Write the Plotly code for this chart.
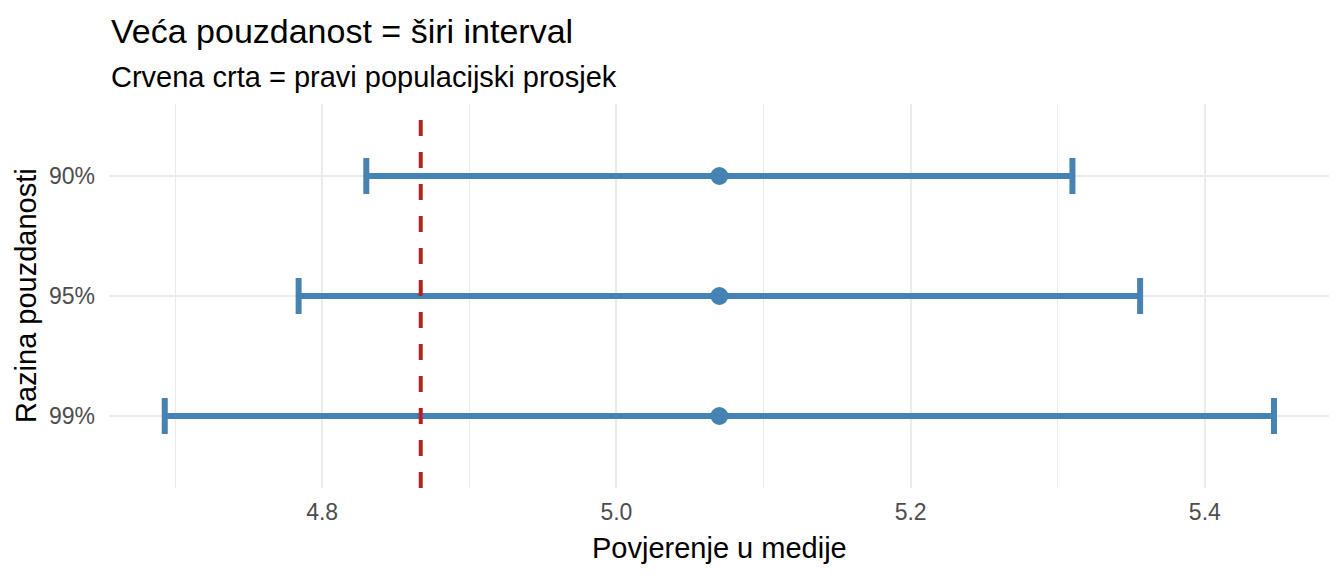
import plotly.graph_objects as go

levels = ["90%", "95%", "99%"]
means = [5.07, 5.07, 5.07]
lower = [4.830, 4.784, 4.693]
upper = [5.310, 5.356, 5.447]
true_mean = 4.867

x_ticks = [4.8, 5.0, 5.2, 5.4]
x_tick_labels = ["4.8", "5.0", "5.2", "5.4"]

title_text = "Veća pouzdanost = širi interval"
subtitle_text = "Crvena crta = pravi populacijski prosjek"
x_title = "Povjerenje u medije"
y_title = "Razina pouzdanosti"

OFF = 8  # default page body margin
W, H = 1344 - OFF, 576 - OFF
L, R, T, B = 109 - OFF, 15, 104 - OFF, 88
pw, ph = W - L - R, H - T - B

FONT = "Liberation Sans, Arial, sans-serif"
STEEL = "#4682B4"

fig = go.Figure()
fig.add_trace(go.Scatter(
    x=means, y=levels, mode="markers",
    marker=dict(size=18, color=STEEL),
    error_x=dict(type="data", symmetric=False,
                 array=[u - m for u, m in zip(upper, means)],
                 arrayminus=[m - l for m, l in zip(means, lower)],
                 color=STEEL, thickness=6, width=18),
    showlegend=False, hoverinfo="skip",
))

fig.add_shape(type="line", xref="x", yref="paper", x0=true_mean, x1=true_mean,
              y0=0, y1=1, layer="above",
              line=dict(color="#B22222", width=4, dash="16px,16px"))

# convert reference-page pixel positions to paper coords
def py_paper(py):
    return (H - B - (py - OFF)) / ph

def px_paper(pxv):
    return (pxv - OFF - L) / pw

fig.add_annotation(text=title_text, xref="paper", yref="paper",
                   x=0, y=py_paper(31), xanchor="left", yanchor="middle",
                   showarrow=False, font=dict(family=FONT, size=34, color="black"))
fig.add_annotation(text=subtitle_text, xref="paper", yref="paper",
                   x=0, y=py_paper(77), xanchor="left", yanchor="middle",
                   showarrow=False, font=dict(family=FONT, size=29, color="black"))
fig.add_annotation(text=x_title, xref="paper", yref="paper",
                   x=0.5, y=py_paper(548), xanchor="center", yanchor="middle",
                   showarrow=False, font=dict(family=FONT, size=29, color="black"))
fig.add_annotation(text=y_title, xref="paper", yref="paper",
                   x=px_paper(26), y=0.5, xanchor="center", yanchor="middle",
                   textangle=-90,
                   showarrow=False, font=dict(family=FONT, size=29, color="black"))

fig.update_layout(
    width=W, height=H,
    margin=dict(l=L, r=R, t=T, b=B, autoexpand=False),
    paper_bgcolor="white", plot_bgcolor="white",
    font=dict(family=FONT),
    xaxis=dict(range=[4.6551, 5.4844], tickvals=x_ticks, ticktext=x_tick_labels,
               showgrid=True, gridcolor="#EBEBEB", gridwidth=2,
               minor=dict(dtick=0.1, tick0=4.7, showgrid=True, gridcolor="#EBEBEB", gridwidth=1),
               zeroline=False, showline=False, ticks="",
               tickfont=dict(family=FONT, size=23, color="#4D4D4D"),
               ticklabelstandoff=8),
    yaxis=dict(type="category", categoryorder="array", categoryarray=["99%", "95%", "90%"],
               range=[-0.6, 2.6], showgrid=True, gridcolor="#EBEBEB", gridwidth=2,
               zeroline=False, showline=False, ticks="",
               tickfont=dict(family=FONT, size=23, color="#4D4D4D"),
               ticklabelstandoff=13),
)

fig.write_html("out.html")
